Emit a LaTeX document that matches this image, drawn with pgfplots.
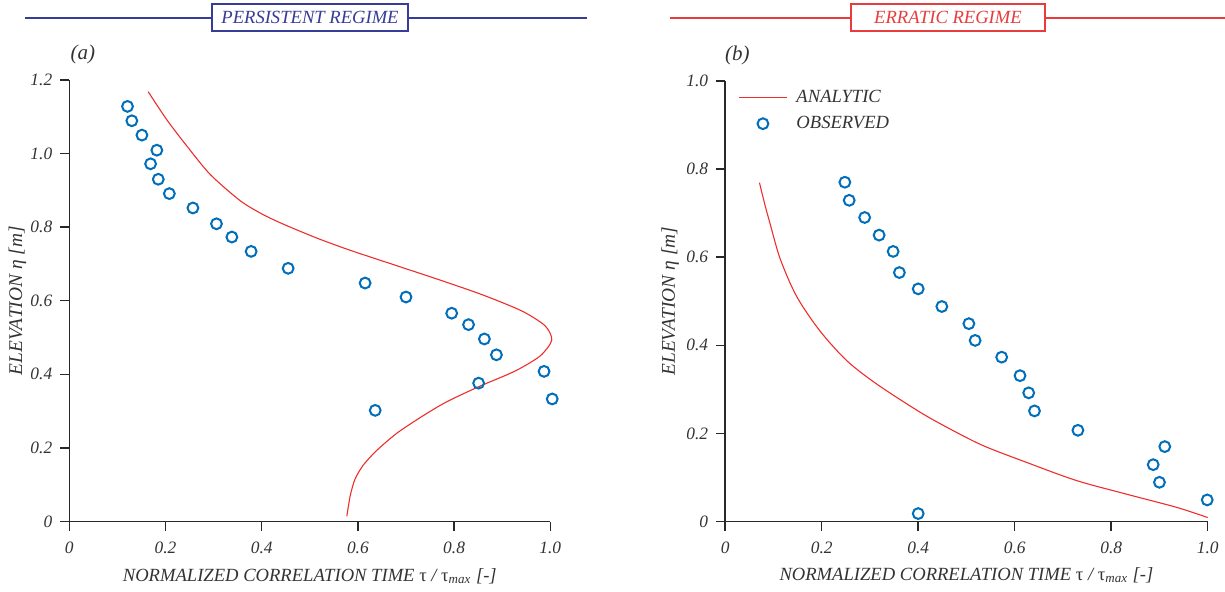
\documentclass[border=0pt]{standalone}
\usepackage{pgfplots}
\pgfplotsset{compat=1.18}
\usepackage{fontspec}
\setmainfont{Liberation Serif}
\definecolor{obsblue}{RGB}{0,110,186}
\definecolor{anared}{RGB}{238,45,45}
\definecolor{hdblue}{RGB}{55,60,150}
\definecolor{hdred}{RGB}{232,60,60}
\definecolor{axgray}{RGB}{40,40,40}
\pgfplotsset{
  myaxis/.style={
    scale only axis,
    axis lines=left,
    axis line style={-, axgray, line width=0.75pt},
    tick align=outside,
    major tick length=4.5pt,
    tick style={axgray, line width=0.75pt},
    xmin=0, xmax=1,
    ymin=0,
    xtick={0,0.2,0.4,0.6,0.8,1.0},
    xticklabels={0,0.2,0.4,0.6,0.8,1.0},
    ticklabel style={font=\fontsize{8.7}{10}\selectfont\itshape, text=black!80},
    xticklabel style={yshift=-2pt},
    yticklabel style={xshift=-0.5pt},
    xlabel={NORMALIZED CORRELATION TIME {\upshape τ} / {\upshape τ}\textsubscript{\itshape max} [-]},
    ylabel={ELEVATION η [m]},
    every axis x label/.style={at={(axis description cs:0.5,-0.123)}, anchor=center,
      font=\fontsize{9.3}{11}\selectfont\itshape, text=black!80},
    clip=false,
  },
  obs/.style={only marks, mark=o, mark size=2.7pt, mark options={obsblue, line width=1pt}},
  ana/.style={anared, line width=0.55pt, no marks},
}
\begin{document}
\begin{tikzpicture}
\path[use as bounding box] (0,0) rectangle (612.5pt,295.5pt);
% headers
\draw[hdblue, line width=1.3pt] (12.5pt,286.5pt) -- (293.5pt,286.5pt);
\node[draw=hdblue, fill=white, line width=0.6pt, minimum width=98pt, minimum height=13.5pt, inner sep=0pt, text=hdblue, font=\fontsize{9.3}{11}\selectfont\itshape] at (155pt,286.75pt) {PERSISTENT REGIME};
\draw[hdred, line width=1.3pt] (335pt,286.5pt) -- (612.5pt,286.5pt);
\node[draw=hdred, fill=white, line width=0.6pt, minimum width=97pt, minimum height=13.5pt, inner sep=0pt, text=hdred, font=\fontsize{9.3}{11}\selectfont\itshape] at (474pt,286.75pt) {ERRATIC REGIME};

\begin{axis}[myaxis,
  at={(34.65pt,34.75pt)}, anchor=south west,
  width=240.5pt, height=220.8pt,
  ymax=1.2,
  ytick={0,0.2,0.4,0.6,0.8,1.0,1.2},
  yticklabels={0,0.2,0.4,0.6,0.8,1.0,1.2},
  every axis y label/.style={at={(axis description cs:-0.108,0.5)}, rotate=90, anchor=center,
    font=\fontsize{9.7}{11}\selectfont\itshape, text=black!80},
]
\addplot[ana, smooth, tension=0.45] coordinates {
(0.164,1.168) (0.202,1.093) (0.244,1.021) (0.293,0.943) (0.355,0.872)
(0.400,0.836) (0.445,0.808) (0.515,0.770) (0.584,0.737) (0.688,0.692)
(0.780,0.652) (0.861,0.615) (0.941,0.572) (0.989,0.532) (1.003,0.493)
(0.979,0.450) (0.927,0.409) (0.854,0.368) (0.798,0.334) (0.769,0.314)
(0.729,0.282) (0.681,0.240) (0.639,0.193) (0.611,0.153) (0.594,0.115)
(0.584,0.070) (0.577,0.014)
};
\addplot[obs] coordinates {
(0.121,1.128) (0.130,1.089) (0.151,1.050) (0.182,1.009) (0.169,0.972)
(0.185,0.930) (0.208,0.891) (0.257,0.852) (0.306,0.809) (0.338,0.773)
(0.378,0.734) (0.455,0.688) (0.615,0.648) (0.700,0.610) (0.795,0.566)
(0.830,0.535) (0.863,0.496) (0.888,0.453) (0.987,0.408) (0.851,0.376)
(1.004,0.333) (0.636,0.302)
};
\node[font=\fontsize{10.5}{12}\selectfont\itshape, text=black!80] at (axis description cs:0.028,1.058) {(a)};
\end{axis}

\begin{axis}[myaxis,
  at={(362.6pt,34.75pt)}, anchor=south west,
  width=241.25pt, height=220.3pt,
  ymax=1.0,
  ytick={0,0.2,0.4,0.6,0.8,1.0},
  yticklabels={0,0.2,0.4,0.6,0.8,1.0},
  every axis y label/.style={at={(axis description cs:-0.114,0.5)}, rotate=90, anchor=center,
    font=\fontsize{9.7}{11}\selectfont\itshape, text=black!80},
  legend style={draw=none, fill=none, at={(axis description cs:0.0265,0.99)}, anchor=north west,
    font=\fontsize{9.3}{11}\selectfont\itshape, text=black!80, row sep=1.5pt, inner sep=0pt,
    nodes={inner sep=2pt}, /tikz/every odd column/.append style={column sep=2.5pt}},
  legend cell align=left,
  legend image code/.code={\draw[mark repeat=2,mark phase=2,#1] plot coordinates {(0pt,0pt) (12pt,0pt) (24pt,0pt)};},
]
\addplot[ana, smooth] coordinates {
(0.071,0.769) (0.082,0.720) (0.093,0.676) (0.114,0.596) (0.148,0.511) (0.196,0.433)
(0.252,0.365) (0.314,0.312) (0.404,0.248) (0.466,0.210) (0.535,0.172)
(0.625,0.134) (0.728,0.093) (0.832,0.062) (0.936,0.032) (1.000,0.009)
};
\addlegendentry{ANALYTIC}
\addplot[obs] coordinates {
(0.248,0.770) (0.257,0.729) (0.289,0.690) (0.319,0.650) (0.348,0.613)
(0.361,0.565) (0.400,0.528) (0.449,0.488) (0.505,0.449) (0.518,0.411)
(0.573,0.373) (0.611,0.331) (0.629,0.292) (0.641,0.251) (0.731,0.207)
(0.911,0.170) (0.887,0.129) (0.900,0.089) (0.999,0.049) (0.400,0.018)
};
\addlegendentry{OBSERVED}
\node[font=\fontsize{10.5}{12}\selectfont\itshape, text=black!80] at (axis description cs:0.025,1.058) {(b)};
\end{axis}
\end{tikzpicture}
\end{document}
